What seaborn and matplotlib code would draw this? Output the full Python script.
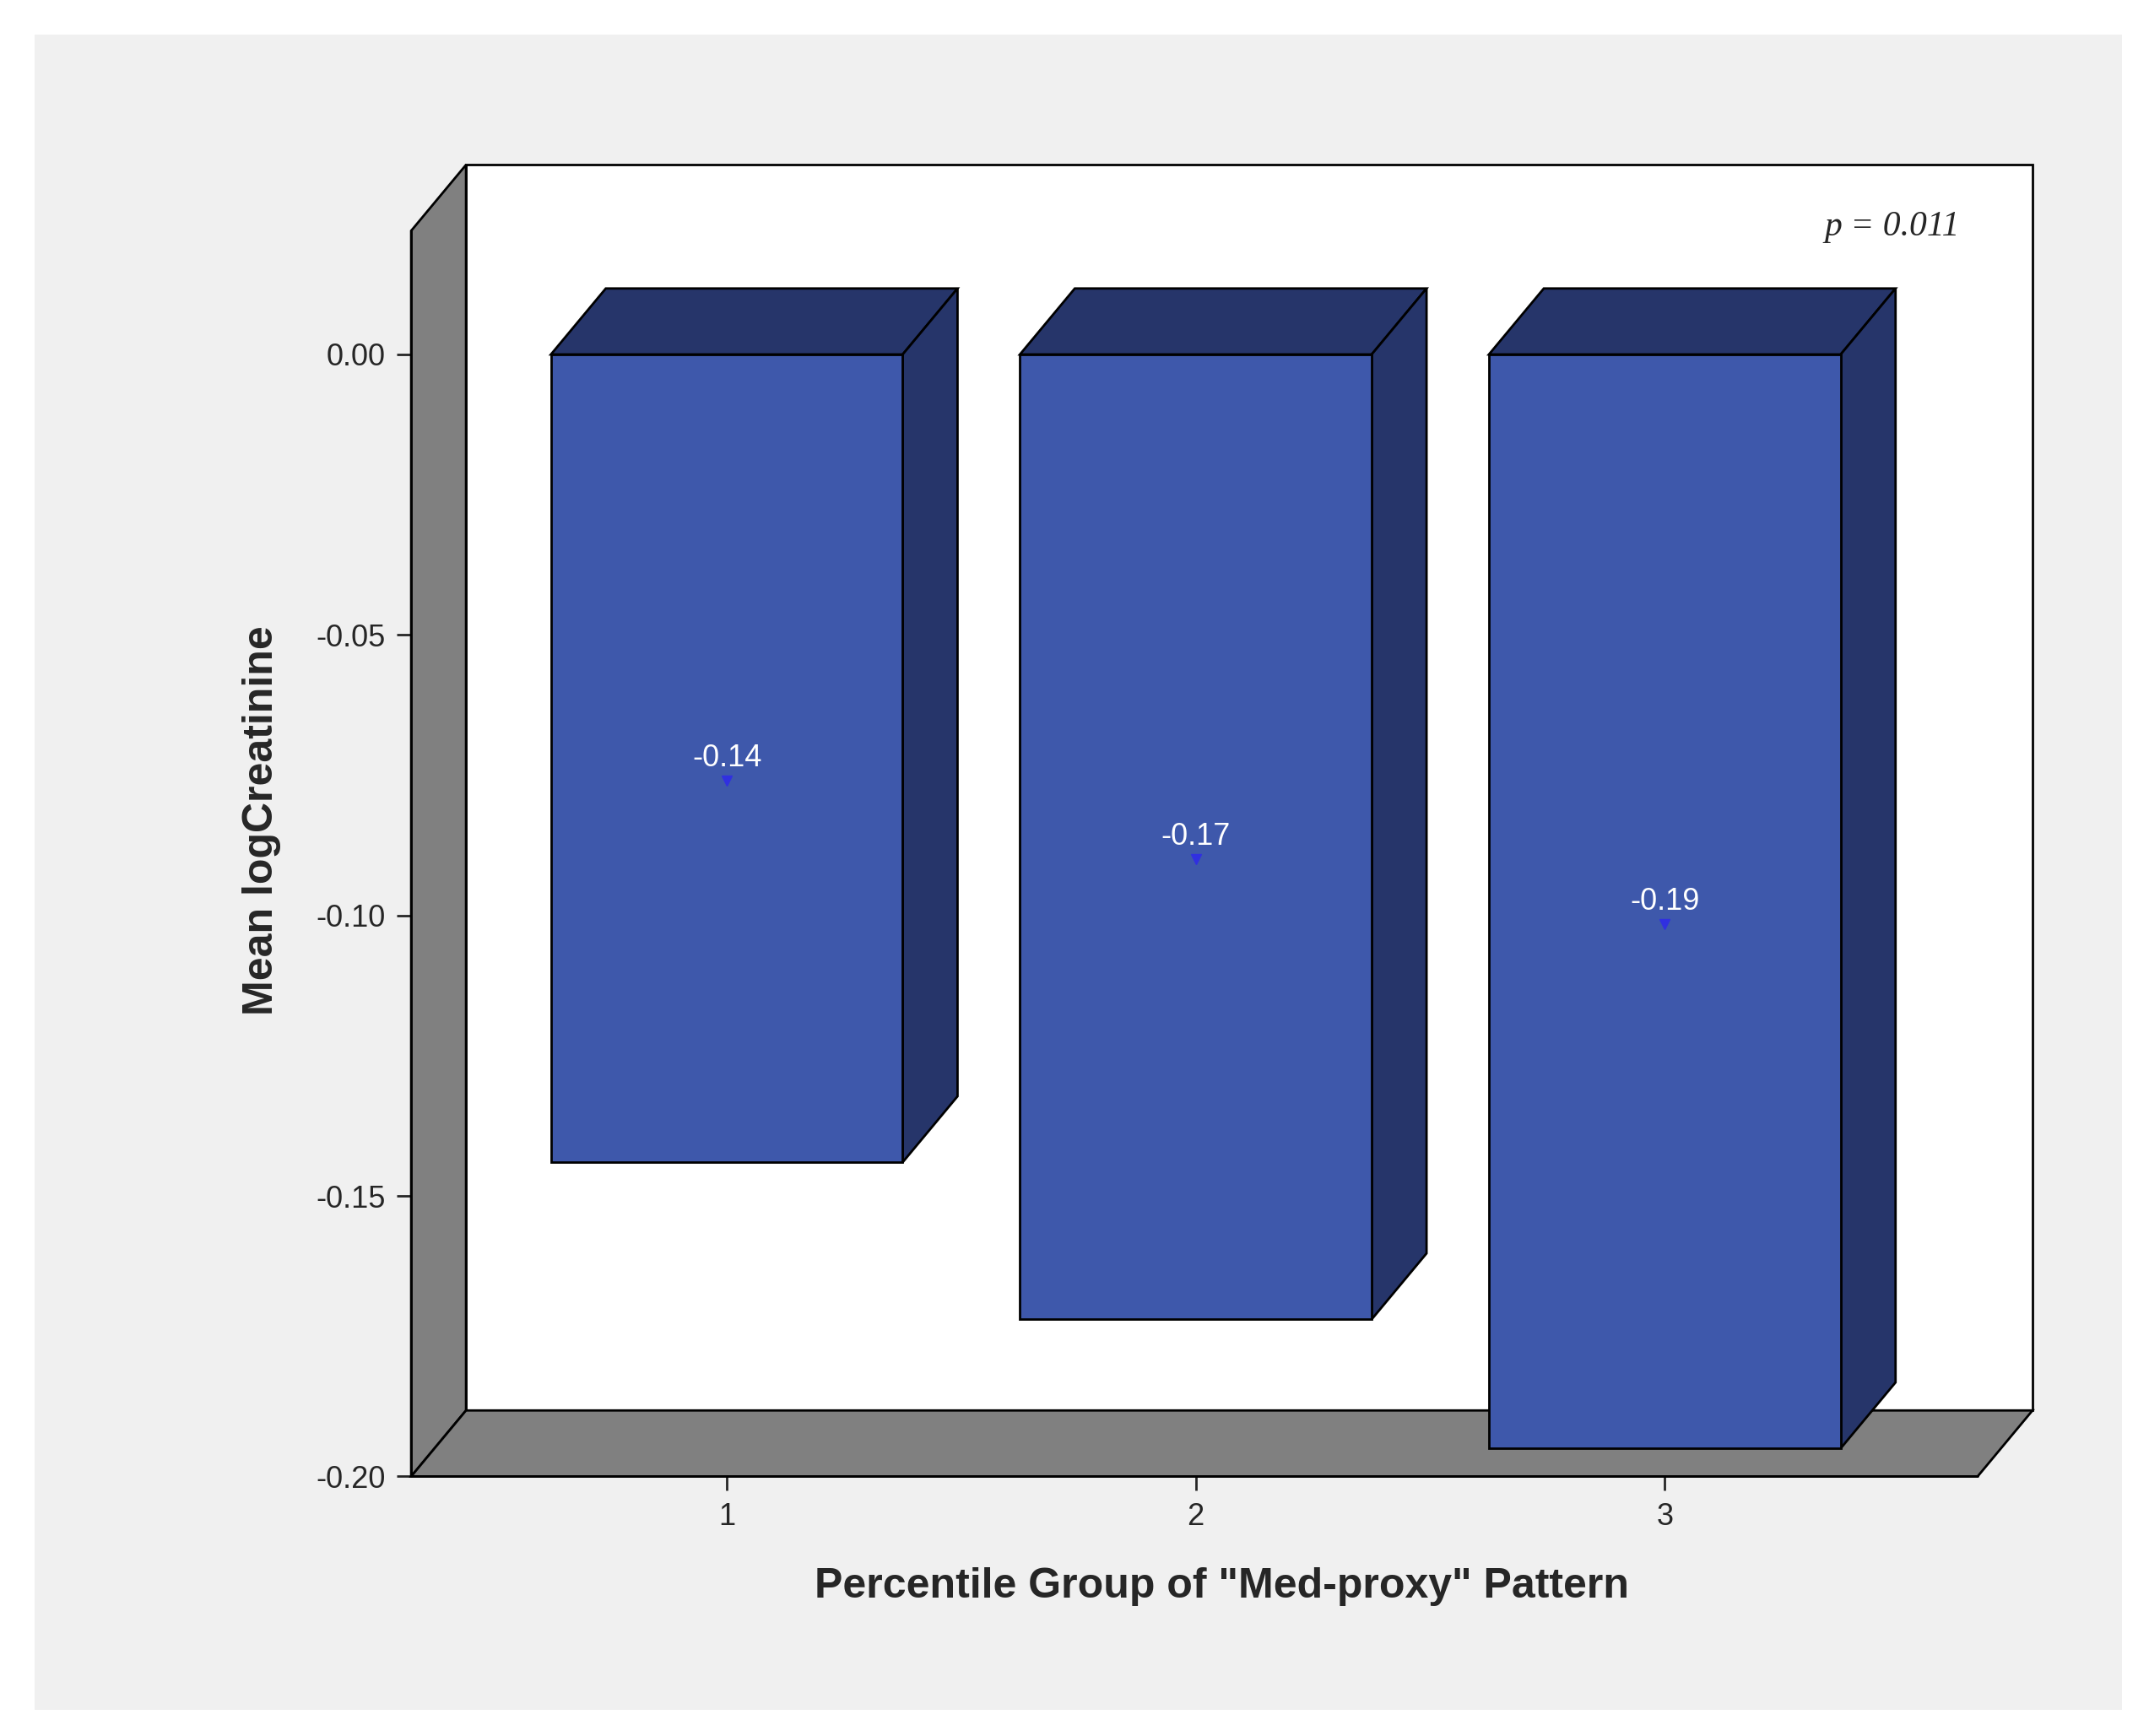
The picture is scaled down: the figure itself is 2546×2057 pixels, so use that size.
import numpy as np
import pandas as pd
import seaborn as sns
import matplotlib.pyplot as plt
from matplotlib.patches import Polygon, Rectangle

groups = ["1", "2", "3"]
mean_logcreat = [-0.144, -0.172, -0.195]
bar_labels = ["-0.14", "-0.17", "-0.19"]
yticks = [0.00, -0.05, -0.10, -0.15, -0.20]

df = pd.DataFrame({"group": groups, "mean": mean_logcreat})

sns.set_style("white")
plt.rcParams["font.family"] = ["Liberation Sans", "DejaVu Sans"]

fig = plt.figure(figsize=(25.46, 20.57), dpi=100, facecolor="white")
bg = fig.add_axes([0, 0, 1, 1], zorder=-1)
bg.axis("off")
bg.add_patch(Rectangle((25/1568, 1-1245/1264), 1523/1568, 1220/1264,
                       transform=bg.transAxes, facecolor="#f0f0f0", edgecolor="none"))

ax = fig.add_axes([300/1568, 1-1075/1264, (1483-300)/1568, (1075-120)/1264], zorder=1)
ax.set_facecolor("none")

xl, xr = -0.673, 2.784
ybot, ytop = -0.20, 0.0338
dx, dy = 0.117, 0.01176

# walls and floor
ax.add_patch(Rectangle((xl+dx, ybot+dy), xr-xl-dx, ytop-ybot-dy,
                       facecolor="white", edgecolor="black", lw=2, zorder=1, clip_on=False))
ax.add_patch(Polygon([(xl, ybot), (xl+dx, ybot+dy), (xl+dx, ytop), (xl, ytop-dy)],
                     facecolor="#808080", edgecolor="black", lw=2, zorder=1, clip_on=False))
ax.add_patch(Polygon([(xl, ybot), (xr-dx, ybot), (xr, ybot+dy), (xl+dx, ybot+dy)],
                     facecolor="#808080", edgecolor="black", lw=2, zorder=1, clip_on=False))

sns.barplot(data=df, x="group", y="mean", color="#3e58ab", saturation=1,
            width=0.75, edgecolor="black", linewidth=2, ax=ax, zorder=3)

for p, lab in zip(ax.patches[-3:], bar_labels):
    x0, w, h = p.get_x(), p.get_width(), p.get_height()
    ax.add_patch(Polygon([(x0, 0), (x0+dx, dy), (x0+w+dx, dy), (x0+w, 0)],
                         facecolor="#26356a", edgecolor="black", lw=2, zorder=2))
    ax.add_patch(Polygon([(x0+w, 0), (x0+w+dx, dy), (x0+w+dx, h+dy), (x0+w, h)],
                         facecolor="#26356a", edgecolor="black", lw=2, zorder=2))
    xc = x0 + w/2
    ax.text(xc, h/2, lab, color="white", ha="center", va="center", fontsize=26, zorder=5)
    ax.plot(xc, h/2 - 0.004, marker="v", color="#3030e0", ms=8, zorder=5)

ax.set_xlim(xl, xr)
ax.set_ylim(ybot, ytop)
for s in ["top", "right", "bottom", "left"]:
    ax.spines[s].set_visible(False)
ax.plot([xl, xl], [ybot, ytop-dy], color="black", lw=2, clip_on=False, zorder=6)
ax.plot([xl, xr-dx], [ybot, ybot], color="black", lw=2, clip_on=False, zorder=6)

ax.set_yticks(yticks)
ax.set_yticklabels([f"{v:.2f}" for v in yticks], fontsize=26)
ax.tick_params(axis="both", direction="out", length=12, width=2, left=True, bottom=True,
               labelsize=26, pad=10)
ax.set_xlabel('Percentile Group of "Med-proxy" Pattern', fontsize=36, fontweight="bold", labelpad=30)
ax.set_ylabel("Mean logCreatinine", fontsize=36, fontweight="bold", labelpad=30)

ax.text(2.63, 0.0228, "p = 0.011", fontsize=30, style="italic", family="Liberation Serif",
        ha="right", va="center", zorder=5)

fig.savefig("out.png", dpi=100, facecolor="white")
